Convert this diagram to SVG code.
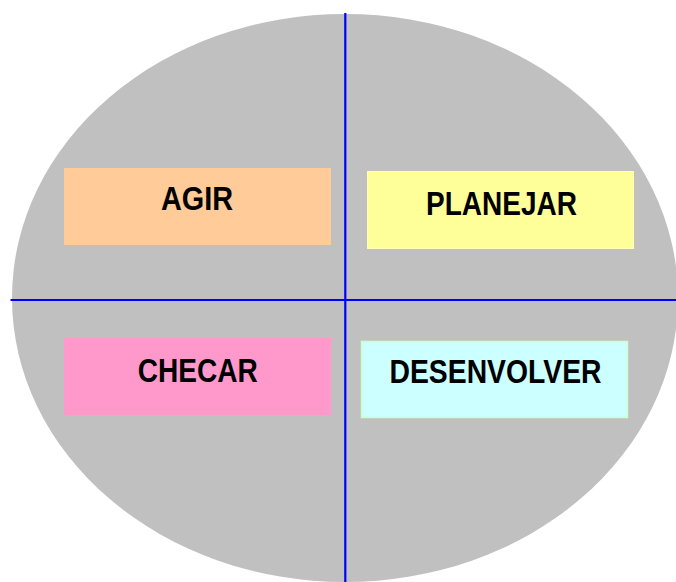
<svg xmlns="http://www.w3.org/2000/svg" width="676" height="582" viewBox="0 0 676 582">
<style>
.lbl{font-family:"Liberation Sans",Arial,sans-serif;font-weight:bold;font-size:33px;fill:#000;text-anchor:middle}
.ax{stroke:#0000FF;stroke-width:2.2;fill:none}
</style>
<rect width="676" height="582" fill="#FFFFFF"/>
<ellipse id="circle" cx="345" cy="298" rx="333" ry="284" fill="#C0C0C0"/>
<g id="agir">
<rect x="64" y="168" width="267" height="77" fill="#FFCC99"/>
<text class="lbl" x="197" y="210" textLength="72" lengthAdjust="spacingAndGlyphs">AGIR</text>
</g>
<g id="planejar">
<rect x="367.5" y="171.5" width="266" height="77" fill="#FFFF99" stroke="#FFFFB8" stroke-width="1"/>
<text class="lbl" x="501.5" y="215" textLength="151" lengthAdjust="spacingAndGlyphs">PLANEJAR</text>
</g>
<g id="checar">
<rect x="64" y="338" width="267" height="77" fill="#FF99CC"/>
<text class="lbl" x="197.7" y="381.7" textLength="120" lengthAdjust="spacingAndGlyphs">CHECAR</text>
</g>
<g id="desenvolver">
<rect x="361.5" y="341.5" width="266" height="76" fill="#CCFFFF" stroke="#CCFFCC" stroke-width="1.5"/>
<text class="lbl" x="495.5" y="383.3" textLength="212" lengthAdjust="spacingAndGlyphs">DESENVOLVER</text>
</g>
<g id="connectors">
<line class="ax" x1="10.5" y1="300" x2="676" y2="300"/>
<line class="ax" x1="345.3" y1="13" x2="345.3" y2="582"/>
</g>
</svg>
